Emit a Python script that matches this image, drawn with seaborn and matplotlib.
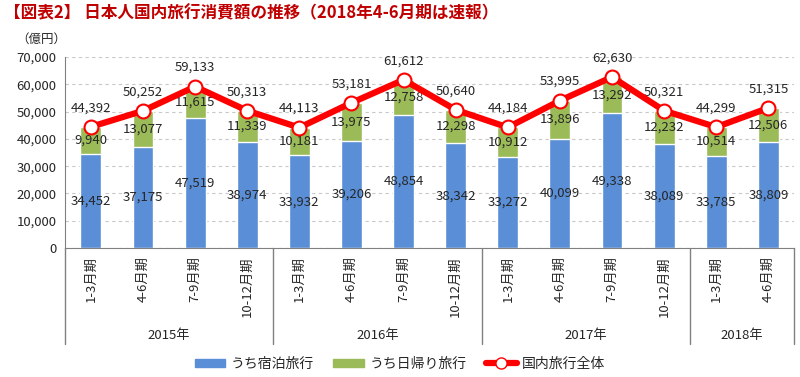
import numpy as np
import pandas as pd
import matplotlib.pyplot as plt
import matplotlib.transforms as mtransforms
from matplotlib.patches import Patch
from matplotlib.lines import Line2D
import seaborn as sns

# data
quarters = ['1-3月期', '4-6月期', '7-9月期', '10-12月期',
            '1-3月期', '4-6月期', '7-9月期', '10-12月期',
            '1-3月期', '4-6月期', '7-9月期', '10-12月期',
            '1-3月期', '4-6月期']
years = ['2015年', '2016年', '2017年', '2018年']
year_counts = [4, 4, 4, 2]
stay = [34452, 37175, 47519, 38974, 33932, 39206, 48854, 38342,
        33272, 40099, 49338, 38089, 33785, 38809]
day = [9940, 13077, 11615, 11339, 10181, 13975, 12758, 12298,
       10912, 13896, 13292, 12232, 10514, 12506]
total = [44392, 50252, 59133, 50313, 44113, 53181, 61612, 50640,
         44184, 53995, 62630, 50321, 44299, 51315]

sns.set_style('white')
plt.rcParams['font.family'] = ['Noto Sans CJK JP', 'DejaVu Sans']

blue = '#5A8ED6'
green = '#9BBB59'
red = '#FF0000'

df = pd.DataFrame({'pos': [str(i) for i in range(len(stay))],
                   'stay': stay,
                   'sum': [s + d for s, d in zip(stay, day)]})

fig = plt.figure(figsize=(8, 3.77), dpi=100)
ax = fig.add_axes([0.081, 0.342, 0.912, 0.507])

# stacked bars: full height in green, lower part in blue
sns.barplot(data=df, x='pos', y='sum', color=green, width=0.4, saturation=1, ax=ax)
sns.barplot(data=df, x='pos', y='stay', color=blue, width=0.4, saturation=1, ax=ax)

x = np.arange(len(total))
ax.plot(x, total, color=red, lw=4.5, marker='o', ms=10,
        mfc='white', mec=red, mew=1.5, zorder=5)

for i in range(len(total)):
    ax.text(i, stay[i] / 2, f'{stay[i]:,}', ha='center', va='center', fontsize=9.5)
    ax.text(i, stay[i] + day[i] / 2, f'{day[i]:,}', ha='center', va='center', fontsize=9.5)
    ax.annotate(f'{total[i]:,}', (i, total[i]), xytext=(0, 9),
                textcoords='offset points', ha='center', va='bottom', fontsize=9.5)

ax.set_ylim(0, 70000)
ax.set_xlim(-0.5, len(total) - 0.5)
ax.set_yticks(range(0, 70001, 10000))
ax.set_yticklabels([f'{v:,}' for v in range(0, 70001, 10000)], fontsize=9.5)
ax.yaxis.grid(True, linestyle=(0, (3, 3)), color='#C8C8C8', lw=0.8)
ax.set_axisbelow(True)
ax.tick_params(axis='both', length=0, pad=6)
ax.set_xticks(x)
ax.set_xticklabels(quarters, rotation=90, fontsize=9.5, va='top')
ax.set_xlabel('')
ax.set_ylabel('')
for side in ['top', 'right']:
    ax.spines[side].set_visible(False)
for side in ['left', 'bottom']:
    ax.spines[side].set_color('#808080')

# year grouping below the axis
trans = mtransforms.blended_transform_factory(ax.transData, ax.transAxes)
edges = [-0.5]
for c in year_counts:
    edges.append(edges[-1] + c)
for e in edges:
    ax.plot([e, e], [0, -0.5], transform=trans, color='#808080', lw=1, clip_on=False)
for j, yr in enumerate(years):
    ax.text((edges[j] + edges[j + 1]) / 2, -0.455, yr, transform=trans,
            ha='center', va='center', fontsize=9.5)

fig.text(0.005, 0.965, '【図表2】 日本人国内旅行消費額の推移（2018年4-6月期は速報）',
         color='#C00000', fontsize=12, fontweight='bold', va='center')
fig.text(0.02, 0.895, '（億円）', fontsize=9, va='center')

handles = [Patch(color=blue), Patch(color=green),
           Line2D([], [], color=red, lw=4.5, marker='o', ms=8, mfc='white', mec=red)]
fig.legend(handles, ['うち宿泊旅行', 'うち日帰り旅行', '国内旅行全体'],
           loc='center', bbox_to_anchor=(0.5, 0.035), ncol=3, frameon=False,
           fontsize=10, handlelength=2.2, handleheight=0.5, columnspacing=1.4,
           handletextpad=0.4)

fig.savefig('out.png', dpi=100)
